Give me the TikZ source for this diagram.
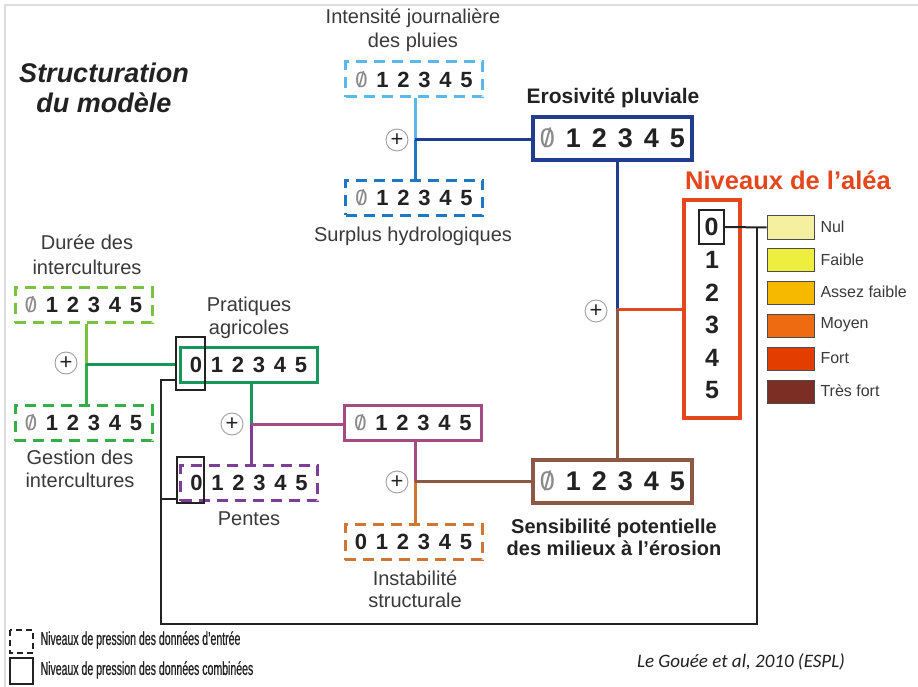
\documentclass[tikz,border=0pt]{standalone}
\usepackage{fontspec}
\setmainfont{Liberation Sans}
\newfontfamily\carl{Carlito}
\newfontfamily\narrowsans[FakeStretch=0.57,FakeBold=0.6]{Liberation Sans}
\definecolor{cLblue}{HTML}{5CB8E8}
\definecolor{cBlue}{HTML}{1F78C4}
\definecolor{cNavy}{HTML}{213D8F}
\definecolor{cLgreen}{HTML}{7CC242}
\definecolor{cGreen}{HTML}{35AE4A}
\definecolor{cDgreen}{HTML}{17975A}
\definecolor{cPurple}{HTML}{7E3D96}
\definecolor{cMag}{HTML}{A24B85}
\definecolor{cOrange}{HTML}{CF7536}
\definecolor{cBrown}{HTML}{8D5844}
\definecolor{cRed}{HTML}{E4471C}
\definecolor{cLine}{HTML}{222222}
\definecolor{cText}{HTML}{3A3A3A}
\definecolor{cZero}{HTML}{8A8A8A}
\definecolor{cFrame}{HTML}{DDDDDD}
\definecolor{lNul}{HTML}{F4F0A0}
\definecolor{lFaible}{HTML}{EDEE3E}
\definecolor{lAssez}{HTML}{F6B900}
\definecolor{lMoyen}{HTML}{EE6B12}
\definecolor{lFort}{HTML}{E43D00}
\definecolor{lTres}{HTML}{7D2E24}
\newcommand\zs{\textcolor{cZero}{\ooalign{{\mdseries 0}\cr\hidewidth{\mdseries/}\hidewidth}}}
\newcommand\digrow[2]{\makebox[#2]{#1}\makebox[#2]{1}\makebox[#2]{2}\makebox[#2]{3}\makebox[#2]{4}\makebox[#2]{5}}
\tikzset{
  valbox/.style={draw, line width=3pt, fill=white, inner sep=0pt, minimum width=137pt, minimum height=35pt, font=\fontsize{22}{24}\selectfont\bfseries, text=cLine},
  dvalbox/.style={valbox, dash pattern=on 11pt off 7pt},
  bigbox/.style={draw, line width=4pt, fill=white, inner sep=0pt, minimum width=159pt, minimum height=43pt, font=\fontsize{27}{29}\selectfont\bfseries, text=cLine},
  zerobox/.style={draw=cLine, line width=2pt, inner sep=0pt},
  conn/.style={line width=3pt},
  blk/.style={draw=cLine, line width=2pt},
  plus/.style={circle, draw=gray!75, line width=0.9pt, fill=white, minimum size=22pt, inner sep=0pt, font=\fontsize{22}{22}\selectfont, text=cLine},
  lab/.style={align=center, text=cText, font=\fontsize{20}{24}\selectfont},
  blab/.style={align=center, text=cLine, font=\fontsize{20}{22}\selectfont\bfseries},
  legbox/.style={draw=gray!60!black, line width=1pt, minimum width=47pt, minimum height=23pt, inner sep=0pt},
  leglab/.style={anchor=west, text=cText, font=\fontsize{16}{18}\selectfont},
  niv/.style={font=\fontsize{25}{27}\selectfont\bfseries, text=cLine}
}
\begin{document}
\begin{tikzpicture}[x=1pt,y=-1pt]
\useasboundingbox (0,0) rectangle (918,687);
\fill[white] (0,0) rectangle (918,687);
\draw[cFrame, line width=1.5pt] (5,687) -- (5,5) -- (918,5);

% title
\node[align=center, text=cLine, font=\fontsize{27}{30}\selectfont\bfseries\itshape] (title) at (104,88) {Structuration\\du modèle};

% junction coordinates
\coordinate (j1) at (415,140);
\coordinate (jr) at (617,309);
\coordinate (j3) at (86,364);
\coordinate (j4) at (251,424);
\coordinate (j5) at (415,481);
\coordinate (jn) at (757,228);
\coordinate (br) at (757,624);
\coordinate (bl) at (161,624);
\coordinate (ka) at (161,380);
\coordinate (kb) at (161,499);

% boxes
\node[dvalbox, draw=cLblue] (int) at (414,79.5) {\digrow{\zs}{21pt}};
\node[dvalbox, draw=cBlue] (sur) at (414,198) {\digrow{\zs}{21pt}};
\node[bigbox, draw=cNavy] (ero) at (612.5,138.5) {\digrow{\zs}{26pt}};
\node[dvalbox, draw=cLgreen] (dur) at (83.5,305) {\digrow{\zs}{21pt}};
\node[dvalbox, draw=cGreen] (ges) at (83.5,423) {\digrow{\zs}{21pt}};
\node[valbox, draw=cDgreen] (pra) at (248.5,365) {\digrow{0}{21pt}};
\node[dvalbox, draw=cPurple] (pen) at (249,483) {\digrow{0}{21pt}};
\node[valbox, draw=cMag] (mid) at (413,423) {\digrow{\zs}{21pt}};
\node[bigbox, draw=cBrown] (sen) at (612.5,481.5) {\digrow{\zs}{26pt}};
\node[dvalbox, draw=cOrange] (ins) at (413.5,542) {\digrow{0}{21pt}};
\node[draw=cRed, line width=4.5pt, minimum width=56pt, minimum height=218pt, inner sep=0pt] (nivbox) at (712,309) {};

% zero boxes (combined)
\node[zerobox, minimum width=29pt, minimum height=53pt] (pra0) at (190.5,363.5) {};
\node[zerobox, minimum width=27pt, minimum height=46pt] (pen0) at (190.5,480) {};

% connectors
\draw[conn, cLblue] (j1 |- int.south) -- (j1);
\draw[conn, cBlue] (j1) -- (j1 |- sur.north);
\draw[conn, cNavy] (j1) -- (j1 -| ero.west);
\draw[conn, cNavy] (jr |- ero.south) -- (jr);
\draw[conn, cRed] (jr) -- (jr -| nivbox.west);
\draw[conn, cBrown] (jr) -- (jr |- sen.north);
\draw[conn, cLgreen] (j3 |- dur.south) -- (j3);
\draw[conn, cGreen] (j3) -- (j3 |- ges.north);
\draw[conn, cDgreen] (j3) -- (j3 -| pra0.west);
\draw[conn, cDgreen] (j4 |- pra.south) -- (j4);
\draw[conn, cPurple] (j4) -- (j4 |- pen.north);
\draw[conn, cMag] (j4) -- (j4 -| mid.west);
\draw[conn, cMag] (j5 |- mid.south) -- (j5);
\draw[conn, cOrange] (j5) -- (j5 |- ins.north);
\draw[conn, cBrown] (j5) -- (j5 -| sen.west);

% plus signs
\node[plus] (p1) at (397,140) {+};
\node[plus] (p2) at (596,311) {+};
\node[plus] (p3) at (66,363) {+};
\node[plus] (p4) at (232,424) {+};
\node[plus] (p5) at (397,482) {+};

% niveaux digits
\node[niv, zerobox, minimum width=25pt, minimum height=34pt] (n0) at (711.5,227) {0};
\node[niv] (n1) at (712,260) {1};
\node[niv] (n2) at (712,293) {2};
\node[niv] (n3) at (712,325) {3};
\node[niv] (n4) at (712,358) {4};
\node[niv] (n5) at (712,390) {5};

% legend colours
\node[legbox, fill=lNul] (nul) at (790.5,227.5) {};
\node[legbox, fill=lFaible] (fai) at (790.5,260) {};
\node[legbox, fill=lAssez] (ass) at (790.5,292.5) {};
\node[legbox, fill=lMoyen] (moy) at (790.5,325.5) {};
\node[legbox, fill=lFort] (for) at (790.5,358.5) {};
\node[legbox, fill=lTres] (tre) at (790.5,391.5) {};
\node[leglab] (tnul) at (817,227) {Nul};
\node[leglab] (tfai) at (817,260) {Faible};
\node[leglab] (tass) at (817,292) {Assez faible};
\node[leglab] (tmoy) at (817,325) {Moyen};
\node[leglab] (tfor) at (817,358) {Fort};
\node[leglab] (ttre) at (817,391) {Très fort};

% black links
\draw[blk] (n0.east) -- (nul.west);
\draw[blk] (jn) -- (br) -- (bl) -- (ka) -- (ka -| pra0.west);
\draw[blk] (kb) -- (kb -| pen0.west);

% labels
\node[lab] (lint) at (413,30) {Intensité journalière\\des pluies};
\node[lab] (lsur) at (413,236) {Surplus hydrologiques};
\node[blab, font=\fontsize{21}{24}\selectfont\bfseries] (lero) at (613,98) {Erosivité pluviale};
\node[lab, font=\fontsize{20}{25}\selectfont] (ldur) at (87,255) {Durée des\\intercultures};
\node[lab, font=\fontsize{20}{23}\selectfont] (lges) at (80,469) {Gestion des\\intercultures};
\node[lab, font=\fontsize{20}{23}\selectfont] (lpra) at (249,318) {Pratiques\\agricoles};
\node[lab] (lpen) at (249,519) {Pentes};
\node[lab, font=\fontsize{20}{22}\selectfont] (lins) at (415,589) {Instabilité\\structurale};
\node[blab] (lsen) at (614,537) {Sensibilité potentielle\\des milieux à l’érosion};
\node[text=cRed, font=\fontsize{25.5}{27}\selectfont\bfseries] (lniv) at (788,180) {Niveaux de l’aléa};

% bottom legend
\draw[cLine, line width=2pt, dash pattern=on 6pt off 4pt] (10,630) rectangle (33,653);
\node[draw=cLine, line width=2pt, minimum width=23pt, minimum height=26pt, inner sep=0pt] (lgs) at (21.5,671) {};
\node[anchor=west, text=cLine, font=\narrowsans\fontsize{18.5}{20}\selectfont] (lgt1) at (37,640) {Niveaux de pression des données d’entrée};
\node[anchor=west, text=cLine, font=\narrowsans\fontsize{18.5}{20}\selectfont] (lgt2) at (37,670) {Niveaux de pression des données combinées};
\node[text=cLine, font=\carl\itshape\fontsize{19}{21}\selectfont] (cite) at (741,662) {Le Gouée et al, 2010 (ESPL)};
\end{tikzpicture}
\end{document}
